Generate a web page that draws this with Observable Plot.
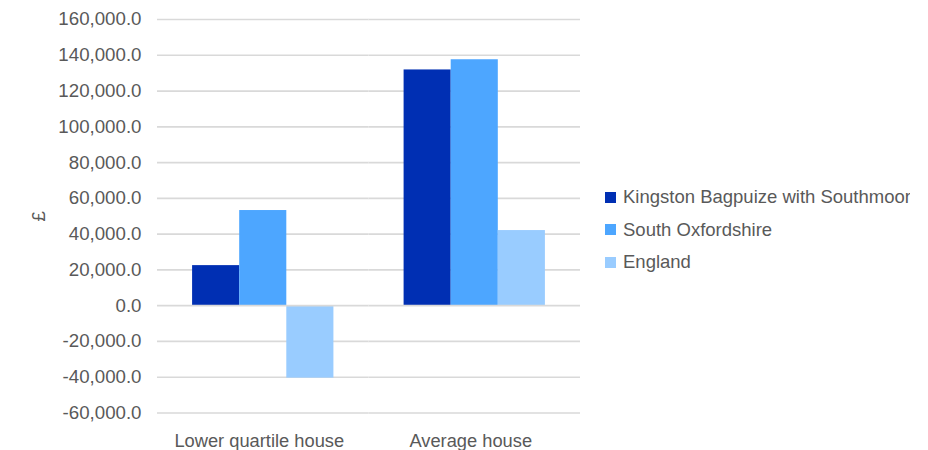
<!DOCTYPE html>
<html>
<head>
<meta charset="utf-8">
<script src="https://cdn.jsdelivr.net/npm/d3@7"></script>
<script src="https://cdn.jsdelivr.net/npm/@observablehq/plot@0.6"></script>
<style>
  body { margin: 0; background: #fff; font-family: "Liberation Sans", Arial, sans-serif; }
  #wrap { position: relative; width: 928px; height: 450px; overflow: hidden; }
  #legend { position: absolute; left: 605px; top: 181px; width: 305px; overflow: hidden; white-space: nowrap; color: #595959; font-size: 18.5px; }
  #legend .row { height: 32.5px; display: flex; align-items: center; }
  #legend .sw { width: 11px; height: 11px; margin-right: 7px; flex: none; }
</style>
</head>
<body>
<div id="wrap"><div id="chart"></div><div id="legend"></div></div>
<script>
const categories = ["Lower quartile house", "Average house"];
const seriesNames = ["Kingston Bagpuize with Southmoor", "South Oxfordshire", "England"];
const seriesColors = ["#002FB3", "#4DA6FF", "#99CCFF"];
const kingstonValues = [22400, 131800];
const southOxonValues = [53200, 137500];
const englandValues = [-40500, 42000];
const yTicks = [-60000, -40000, -20000, 0, 20000, 40000, 60000, 80000, 100000, 120000, 140000, 160000];

const allValues = [kingstonValues, southOxonValues, englandValues];
const data = [];
categories.forEach((c, i) => {
  seriesNames.forEach((s, j) => data.push({category: c, series: s, value: allValues[j][i]}));
});

const locale = d3.formatLocale({decimal: ".", thousands: ",", grouping: [3], currency: ["£", ""], minus: "-"});
const fmt = locale.format(",.1f");
const font = "'Liberation Sans', Arial, sans-serif";
const plot = Plot.plot({
  width: 928,
  height: 450,
  marginTop: 19,
  marginBottom: 37.5,
  marginLeft: 157,
  marginRight: 348,
  style: {fontFamily: font, fontSize: "18.7px", color: "#595959", background: "#fff"},
  fx: {domain: categories, paddingInner: 0, paddingOuter: 0, round: false, axis: null},
  x: {domain: seriesNames, axis: null, paddingInner: 0, paddingOuter: 0.745, round: false},
  y: {domain: [-60000, 160000], axis: null},
  color: {domain: seriesNames, range: seriesColors},
  marks: [
    Plot.ruleY(yTicks.filter(d => d !== 0), {stroke: "#d9d9d9", strokeWidth: 1.7}),
    Plot.barY(data, {fx: "category", x: "series", y: "value", fill: "series"}),
    Plot.ruleY([0], {stroke: "#d9d9d9", strokeWidth: 1.7}),
    Plot.axisFx({anchor: "bottom", tickSize: 0, tickPadding: 21, dx: -4, label: null, fontSize: 18.3}),
    Plot.axisY({ticks: yTicks, tickFormat: fmt, tickSize: 0, tickPadding: 16, label: null}),
    Plot.axisY({ticks: [], label: "£", labelAnchor: "center", labelArrow: "none", labelOffset: 126})
  ]
});
document.getElementById("chart").appendChild(plot);

const legend = d3.select("#legend");
seriesNames.forEach((s, i) => {
  const row = legend.append("div").attr("class", "row");
  row.append("div").attr("class", "sw").style("background", seriesColors[i]);
  row.append("span").text(s);
});
</script>
</body>
</html>
